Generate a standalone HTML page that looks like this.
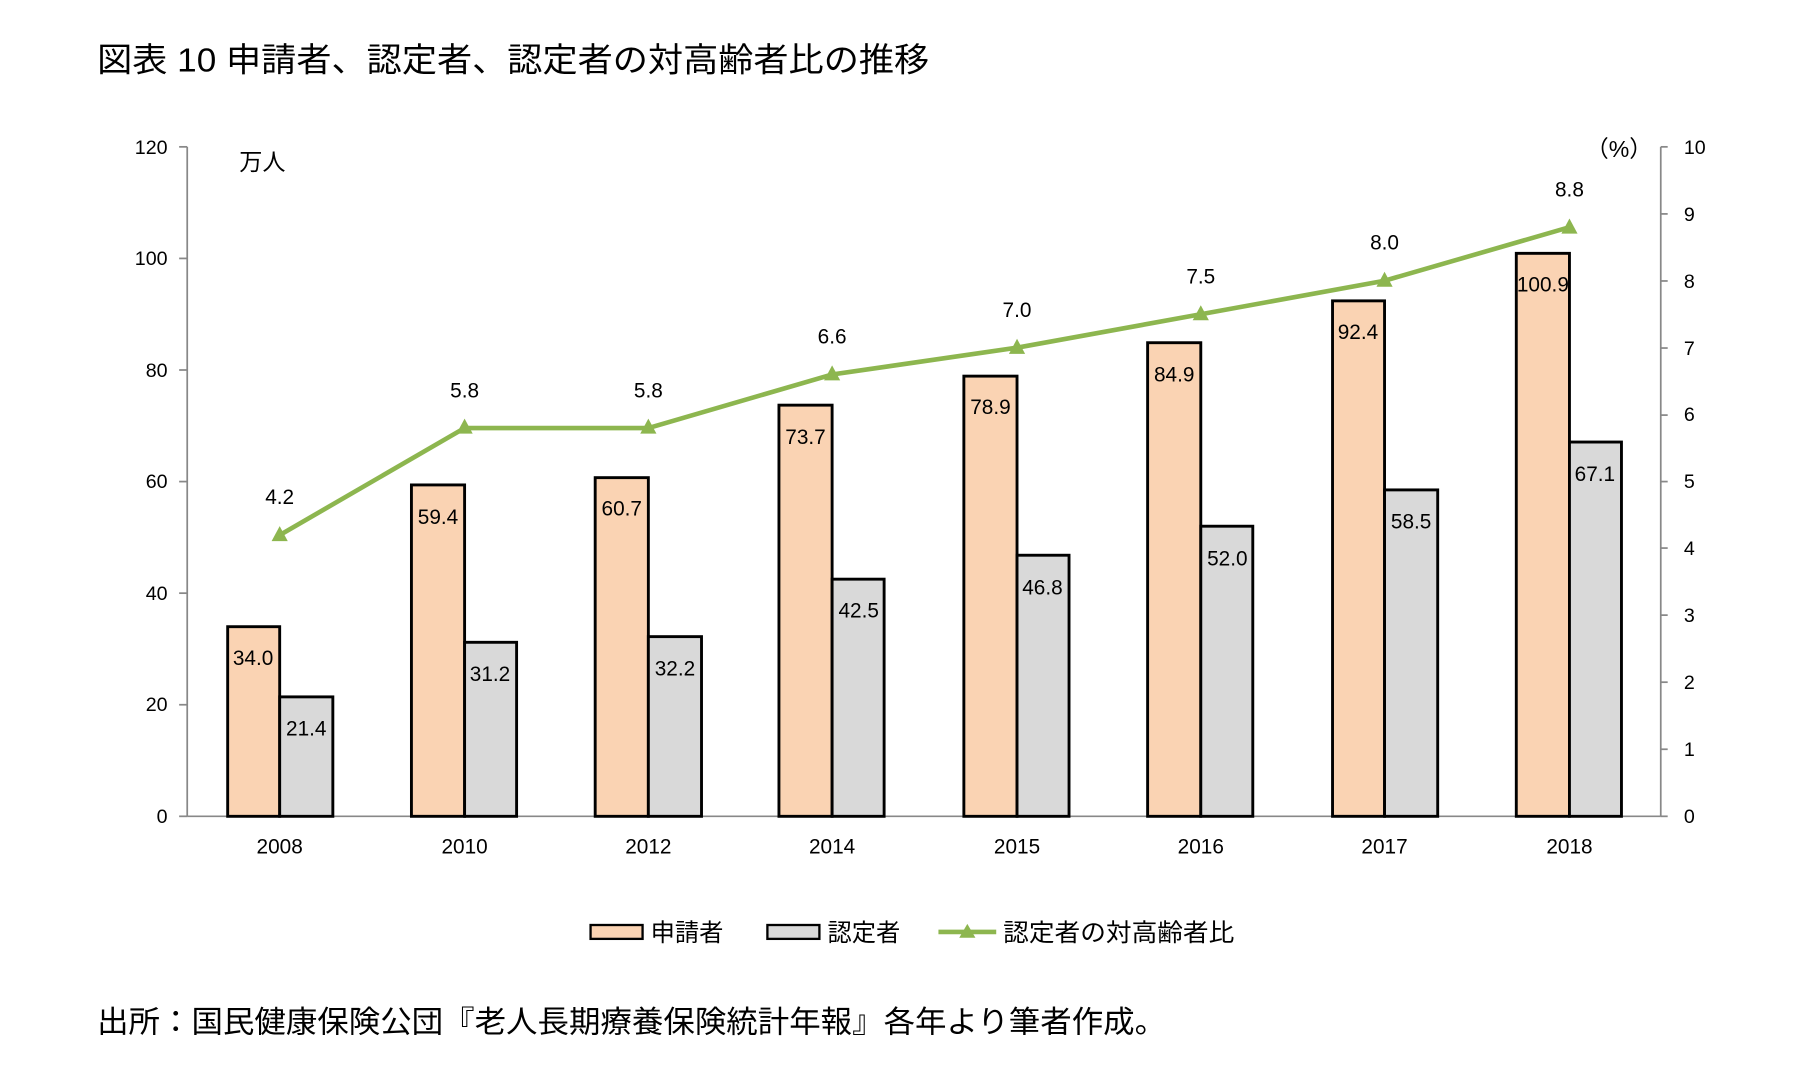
<!DOCTYPE html>
<html><head><meta charset="utf-8"><style>
html,body{margin:0;padding:0;background:#fff;}
svg{display:block;}
text{font-family:"Liberation Sans","Noto Sans CJK JP",sans-serif;fill:#000;}
</style></head><body>
<svg width="1811" height="1070" viewBox="0 0 1567 925.4" preserveAspectRatio="none" xmlns="http://www.w3.org/2000/svg">
<text x="84" y="62" font-size="29" textLength="720" lengthAdjust="spacingAndGlyphs">図表 10 申請者、認定者、認定者の対高齢者比の推移</text>
<g font-size="17" text-anchor="end">
<text x="145" y="712">0</text><text x="145" y="615">20</text><text x="145" y="519">40</text><text x="145" y="422">60</text><text x="145" y="326">80</text><text x="145" y="229">100</text><text x="145" y="133">120</text>
</g>
<g font-size="17">
<text x="1457" y="712">0</text><text x="1457" y="654">1</text><text x="1457" y="596">2</text><text x="1457" y="538">3</text><text x="1457" y="480">4</text><text x="1457" y="422">5</text><text x="1457" y="364">6</text><text x="1457" y="307">7</text><text x="1457" y="249">8</text><text x="1457" y="191">9</text><text x="1457" y="133">10</text>
</g>
<text x="207" y="147" font-size="20">万人</text>
<text x="1372" y="136" font-size="20">（%）</text>
<g stroke="#888" stroke-width="1.5">
<line x1="162" y1="127" x2="162" y2="706"/>
<line x1="1437" y1="127" x2="1437" y2="706"/>
<line x1="162" y1="706" x2="1437" y2="706"/>
<line x1="155" y1="706" x2="162" y2="706"/><line x1="155" y1="609.5" x2="162" y2="609.5"/><line x1="155" y1="513" x2="162" y2="513"/><line x1="155" y1="416.5" x2="162" y2="416.5"/><line x1="155" y1="320" x2="162" y2="320"/><line x1="155" y1="223.5" x2="162" y2="223.5"/><line x1="155" y1="127" x2="162" y2="127"/>
<line x1="1437" y1="706" x2="1443" y2="706"/><line x1="1437" y1="648" x2="1443" y2="648"/><line x1="1437" y1="590" x2="1443" y2="590"/><line x1="1437" y1="532" x2="1443" y2="532"/><line x1="1437" y1="474" x2="1443" y2="474"/><line x1="1437" y1="416.5" x2="1443" y2="416.5"/><line x1="1437" y1="359" x2="1443" y2="359"/><line x1="1437" y1="301" x2="1443" y2="301"/><line x1="1437" y1="243" x2="1443" y2="243"/><line x1="1437" y1="185" x2="1443" y2="185"/><line x1="1437" y1="127" x2="1443" y2="127"/>
</g>
<g stroke="#000" stroke-width="2.5">
<rect x="197" y="542" width="45" height="164" fill="#fad3b3"/><rect x="242" y="602.7" width="46" height="103.3" fill="#d9d9d9"/>
<rect x="356" y="419.4" width="46" height="286.6" fill="#fad3b3"/><rect x="402" y="555.5" width="45" height="150.5" fill="#d9d9d9"/>
<rect x="515" y="413.1" width="46" height="292.9" fill="#fad3b3"/><rect x="561" y="550.6" width="46" height="155.4" fill="#d9d9d9"/>
<rect x="674" y="350.4" width="46" height="355.6" fill="#fad3b3"/><rect x="720" y="500.9" width="45" height="205.1" fill="#d9d9d9"/>
<rect x="834" y="325.3" width="46" height="380.7" fill="#fad3b3"/><rect x="880" y="480.2" width="45" height="225.8" fill="#d9d9d9"/>
<rect x="993" y="296.4" width="46" height="409.6" fill="#fad3b3"/><rect x="1039" y="455.1" width="45" height="250.9" fill="#d9d9d9"/>
<rect x="1153" y="260.2" width="45" height="445.8" fill="#fad3b3"/><rect x="1198" y="423.7" width="46" height="282.3" fill="#d9d9d9"/>
<rect x="1312" y="219.1" width="46" height="486.9" fill="#fad3b3"/><rect x="1358" y="382.3" width="45" height="323.7" fill="#d9d9d9"/>
</g>
<g font-size="18" text-anchor="middle">
<text x="219" y="575">34.0</text><text x="265" y="636">21.4</text>
<text x="379" y="453">59.4</text><text x="424" y="589">31.2</text>
<text x="538" y="446">60.7</text><text x="584" y="584">32.2</text>
<text x="697" y="384">73.7</text><text x="743" y="534">42.5</text>
<text x="857" y="358">78.9</text><text x="902" y="514">46.8</text>
<text x="1016" y="330">84.9</text><text x="1062" y="489">52.0</text>
<text x="1175" y="293">92.4</text><text x="1221" y="457">58.5</text>
<text x="1335" y="252">100.9</text><text x="1380" y="416">67.1</text>
</g>
<polyline points="242,462.8 402,370.2 561,370.2 720,323.9 880,300.7 1039,271.8 1198,242.8 1358,196.5" fill="none" stroke="#8db64f" stroke-width="4"/>
<g fill="#8db64f">
<polygon points="242,455 235,468 249,468"/><polygon points="402,362 395,375 409,375"/><polygon points="561,362 554,375 568,375"/><polygon points="720,316 713,329 727,329"/><polygon points="880,293 873,306 887,306"/><polygon points="1039,264 1032,277 1046,277"/><polygon points="1198,235 1191,248 1205,248"/><polygon points="1358,189 1351,202 1365,202"/>
</g>
<g font-size="18" text-anchor="middle">
<text x="242" y="436">4.2</text><text x="402" y="344">5.8</text><text x="561" y="344">5.8</text><text x="720" y="297">6.6</text><text x="880" y="274">7.0</text><text x="1039" y="245">7.5</text><text x="1198" y="216">8.0</text><text x="1358" y="170">8.8</text>
</g>
<g font-size="18" text-anchor="middle">
<text x="242" y="738">2008</text><text x="402" y="738">2010</text><text x="561" y="738">2012</text><text x="720" y="738">2014</text><text x="880" y="738">2015</text><text x="1039" y="738">2016</text><text x="1198" y="738">2017</text><text x="1358" y="738">2018</text>
</g>
<rect x="511" y="800" width="45" height="12" fill="#fad3b3" stroke="#000" stroke-width="2"/>
<text x="563" y="814" font-size="21">申請者</text>
<rect x="664" y="800" width="45" height="12" fill="#d9d9d9" stroke="#000" stroke-width="2"/>
<text x="716" y="814" font-size="21">認定者</text>
<line x1="812" y1="806" x2="862" y2="806" stroke="#8db64f" stroke-width="4"/>
<polygon points="837,799 830,811 844,811" fill="#8db64f"/>
<text x="868" y="814" font-size="21" textLength="200" lengthAdjust="spacingAndGlyphs">認定者の対高齢者比</text>
<text x="84" y="893" font-size="26.5" textLength="925" lengthAdjust="spacingAndGlyphs">出所：国民健康保険公団『老人長期療養保険統計年報』各年より筆者作成。</text>
</svg>
</body></html>
